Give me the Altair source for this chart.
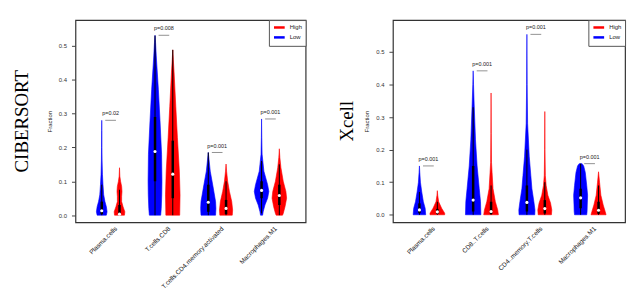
import json
import altair as alt
import pandas as pd

# ---------------- data ----------------
CIB_CELLS = ["Plasma.cells", "T.cells.CD8", "T.cells.CD4.memory.activated", "Macrophages.M1"]
XC_CELLS = ["Plasma.cells", "CD8..T.cells", "CD4..memory.T.cells", "Macrophages.M1"]

CIB_PVALS = ["p=0.02", "p=0.008", "p=0.001", "p=0.001"]
XC_PVALS = ["p=0.001", "p=0.001", "p=0.001", "p=0.001"]

# violin outlines: (fraction, half width in slot units) per cell, Low / High
CIB_LOW = [
    [(0.0, 0.26), (0.01, 0.30), (0.025, 0.26), (0.04, 0.18), (0.06, 0.11), (0.09, 0.07),
     (0.12, 0.04), (0.16, 0.02), (0.20, 0.012), (0.25, 0.006), (0.28, 0.0)],
    [(0.0, 0.32), (0.02, 0.35), (0.06, 0.38), (0.10, 0.39), (0.18, 0.37), (0.28, 0.28),
     (0.37, 0.19), (0.47, 0.07), (0.51, 0.03), (0.531, 0.0)],
    [(0.0, 0.41), (0.02, 0.43), (0.04, 0.41), (0.08, 0.28), (0.13, 0.11), (0.16, 0.05),
     (0.185, 0.0)],
    [(0.0, 0.06), (0.01, 0.09), (0.03, 0.19), (0.05, 0.34), (0.07, 0.41), (0.09, 0.34),
     (0.13, 0.13), (0.18, 0.03), (0.23, 0.012), (0.284, 0.0)],
]
CIB_HIGH = [
    [(0.0, 0.28), (0.01, 0.30), (0.025, 0.20), (0.04, 0.12), (0.055, 0.12), (0.07, 0.14),
     (0.085, 0.12), (0.10, 0.06), (0.115, 0.02), (0.14, 0.0)],
    [(0.0, 0.39), (0.06, 0.41), (0.13, 0.37), (0.23, 0.26), (0.32, 0.17), (0.42, 0.075),
     (0.46, 0.03), (0.488, 0.0)],
    [(0.0, 0.35), (0.015, 0.37), (0.04, 0.32), (0.07, 0.19), (0.10, 0.09), (0.13, 0.03),
     (0.151, 0.0)],
    [(0.0, 0.18), (0.005, 0.22), (0.025, 0.32), (0.05, 0.41), (0.07, 0.37), (0.10, 0.22),
     (0.14, 0.09), (0.17, 0.03), (0.196, 0.0)],
]
XC_LOW = [
    [(0.0, 0.35), (0.02, 0.32), (0.04, 0.22), (0.07, 0.13), (0.10, 0.056), (0.13, 0.02),
     (0.15, 0.0)],
    [(0.0, 0.43), (0.04, 0.41), (0.08, 0.34), (0.15, 0.22), (0.23, 0.13), (0.34, 0.055),
     (0.40, 0.02), (0.442, 0.0)],
    [(0.0, 0.44), (0.015, 0.45), (0.04, 0.39), (0.08, 0.28), (0.12, 0.22), (0.18, 0.13),
     (0.28, 0.04), (0.40, 0.015), (0.554, 0.0)],
    [(0.0, 0.34), (0.01, 0.36), (0.03, 0.37), (0.06, 0.39), (0.09, 0.34), (0.13, 0.26),
     (0.15, 0.17), (0.157, 0.08)],
]
XC_HIGH = [
    [(0.0, 0.41), (0.005, 0.41), (0.02, 0.24), (0.04, 0.075), (0.06, 0.02), (0.074, 0.0)],
    [(0.0, 0.41), (0.015, 0.37), (0.04, 0.24), (0.08, 0.11), (0.13, 0.056), (0.16, 0.025),
     (0.25, 0.01), (0.374, 0.0)],
    [(0.0, 0.37), (0.015, 0.39), (0.036, 0.32), (0.06, 0.17), (0.09, 0.075), (0.12, 0.03),
     (0.20, 0.01), (0.317, 0.0)],
    [(0.0, 0.42), (0.01, 0.37), (0.03, 0.26), (0.06, 0.13), (0.10, 0.056), (0.132, 0.0)],
]

# box statistics per cell: (whisker low, q1, median, q3, whisker high)
CIB_LOW_BOX = [(0, 0.003, 0.013, 0.04, 0.09), (0, 0.10, 0.188, 0.29, 0.53),
               (0, 0.01, 0.038, 0.09, 0.185), (0.005, 0.05, 0.073, 0.10, 0.16)]
CIB_HIGH_BOX = [(0, 0.0, 0.003, 0.03, 0.075), (0, 0.05, 0.121, 0.22, 0.488),
                (0, 0.003, 0.02, 0.045, 0.10), (0, 0.03, 0.058, 0.09, 0.15)]
XC_LOW_BOX = [(0, 0.005, 0.015, 0.035, 0.07), (0, 0.01, 0.045, 0.15, 0.33),
              (0, 0.01, 0.038, 0.09, 0.20), (0, 0.02, 0.052, 0.08, 0.157)]
XC_HIGH_BOX = [(0, 0.003, 0.009, 0.018, 0.04), (0, 0.002, 0.01, 0.04, 0.09),
               (0, 0.004, 0.019, 0.045, 0.10), (0, 0.003, 0.014, 0.04, 0.09)]

CIB_YDOMAIN = [-0.0214, 0.576]
XC_YDOMAIN = [-0.0235, 0.598]

RED = "#ff0000"
BLUE = "#0000ff"
FONT = "Liberation Sans"


def make_panel(title, cells, low, high, low_box, high_box, pvals, ydomain, title_offset, width):
    rows = []
    for grp, profs in (("Low", low), ("High", high)):
        for i, prof in enumerate(profs):
            for v, hw in prof:
                rows.append({"idx": i, "grp": grp, "vid": f"{grp}{i}", "v": v, "hw": hw})
    vdf = pd.DataFrame(rows)

    brows = []
    for grp, boxes in (("Low", low_box), ("High", high_box)):
        for i, (wlo, q1, med, q3, whi) in enumerate(boxes):
            brows.append({"idx": i, "grp": grp, "wlo": wlo, "q1": q1, "med": med,
                          "q3": q3, "whi": whi})
    bdf = pd.DataFrame(brows)

    prow = []
    for i, p in enumerate(pvals):
        prow.append({"idx": i, "p": p, "top": max(v for v, _ in low[i])})
    pdf = pd.DataFrame(prow)

    xscale = alt.Scale(domain=[-0.48, 12.48], nice=False, zero=False)
    yscale = alt.Scale(domain=ydomain, nice=False, zero=False)
    label_expr = f"{json.dumps(cells)}[round((datum.value - 1.5) / 3)]"
    xaxis = alt.Axis(values=[1.5, 4.5, 7.5, 10.5], labelExpr=label_expr, labelAngle=315,
                     labelAlign="right", labelBaseline="middle", labelOffset=5,
                     labelPadding=5, ticks=False, domain=False, grid=False, title=None,
                     labelFontSize=6.5, labelFont=FONT, labelColor="#111",
                     labelOverlap=False, labelBound=False, labelLimit=200)
    yaxis = alt.Axis(values=[0, 0.1, 0.2, 0.3, 0.4, 0.5], format=".1f", tickSize=4,
                     labelPadding=5, labelFontSize=6, labelFont=FONT, labelColor="#333",
                     tickColor="#444", domain=False, grid=False, title="Fraction",
                     titleFontSize=6, titleFont=FONT, titleFontWeight="normal",
                     titleColor="#222", titlePadding=6)

    center = "datum.idx * 3 + (datum.grp == 'Low' ? 1 : 2)"
    gscale = alt.Scale(domain=["High", "Low"], range=[RED, BLUE])
    legend = alt.Legend(orient="top-right", offset=0, title=None,
                        symbolType="M-1.8,0L1.8,0", symbolStrokeWidth=2.5,
                        symbolSize=36, symbolOffset=3, labelOffset=6,
                        labelFontSize=6, labelFont=FONT, labelColor="#222",
                        strokeColor="#555", fillColor="white",
                        padding=3, rowPadding=-3, cornerRadius=0)

    violins = alt.Chart(vdf).transform_calculate(
        c=center
    ).transform_calculate(
        lo="datum.c - datum.hw", hi="datum.c + datum.hw"
    ).mark_area(orient="horizontal", strokeWidth=0.6).encode(
        y=alt.Y("v:Q", scale=yscale, axis=yaxis),
        x=alt.X("lo:Q", scale=xscale, axis=xaxis, stack=None),
        x2="hi:Q",
        fill=alt.Fill("grp:N", scale=gscale, legend=legend),
        stroke=alt.Stroke("grp:N", scale=gscale, legend=legend),
        detail="vid:N",
    )

    base_box = alt.Chart(bdf).transform_calculate(c=center)
    whisk = base_box.mark_rule(color="black", strokeWidth=1).encode(
        x=alt.X("c:Q", scale=xscale), y=alt.Y("wlo:Q", scale=yscale), y2="whi:Q")
    box = base_box.mark_rule(color="black", strokeWidth=2.5).encode(
        x=alt.X("c:Q", scale=xscale), y=alt.Y("q1:Q", scale=yscale), y2="q3:Q")
    med = base_box.mark_point(filled=True, color="white", opacity=1, size=10).encode(
        x=alt.X("c:Q", scale=xscale), y=alt.Y("med:Q", scale=yscale))

    base_p = alt.Chart(pdf).transform_calculate(
        mid="datum.idx * 3 + 1.5"
    ).transform_calculate(
        a="datum.mid - 0.3", b="datum.mid + 0.3"
    )
    pline = base_p.mark_rule(color="#777", strokeWidth=0.8).encode(
        x=alt.X("a:Q", scale=xscale), x2="b:Q", y=alt.Y("top:Q", scale=yscale))
    ptext = base_p.mark_text(dy=-7, fontSize=5.5, font=FONT, color="#222").encode(
        x=alt.X("mid:Q", scale=xscale), y=alt.Y("top:Q", scale=yscale), text="p:N")

    return alt.layer(violins, whisk, box, med, pline, ptext).properties(
        width=width,
        height=204,
        view=alt.ViewBackground(stroke="#333", strokeWidth=1.2, fill="white"),
        title=alt.TitleParams(title, orient="left", font="Liberation Serif", fontSize=19,
                              fontWeight="normal", color="black", offset=title_offset),
    )


left = make_panel("CIBERSORT", CIB_CELLS, CIB_LOW, CIB_HIGH, CIB_LOW_BOX, CIB_HIGH_BOX,
                  CIB_PVALS, CIB_YDOMAIN, 14, 232)
right = make_panel("Xcell", XC_CELLS, XC_LOW, XC_HIGH, XC_LOW_BOX, XC_HIGH_BOX,
                   XC_PVALS, XC_YDOMAIN, 7, 234)

chart = alt.hconcat(left, right, spacing=30).resolve_scale(
    fill="independent", stroke="independent"
).resolve_legend(
    fill="independent", stroke="independent"
).properties(
    padding={"left": 5, "top": 9, "right": 5, "bottom": 0},
    background="white",
)

chart.save("out.html", embed_options={"renderer": "svg", "actions": False})
